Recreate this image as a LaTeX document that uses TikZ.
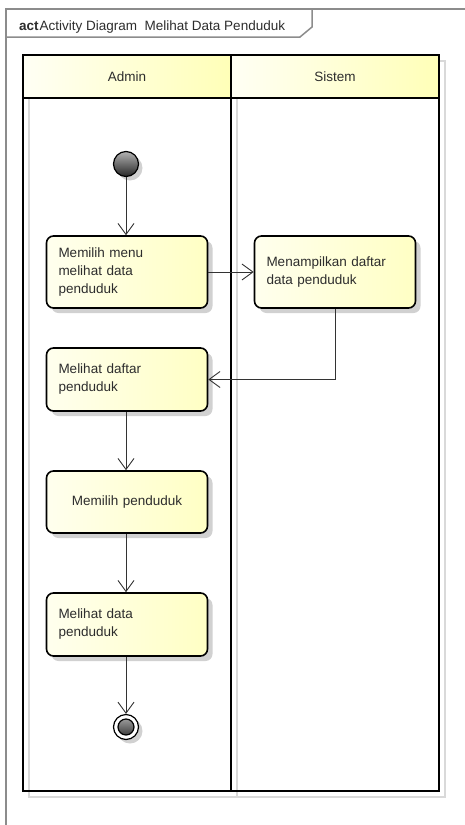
\documentclass[tikz,border=0pt]{standalone}
\usepackage{fontspec}
\setmainfont{Liberation Sans}
\usetikzlibrary{arrows.meta,shadows}

\definecolor{actleft}{RGB}{255,255,238}
\definecolor{actright}{RGB}{255,255,196}
\definecolor{textgray}{RGB}{45,45,45}

\tikzset{
  frame/.style={draw=black!45, line width=1.5pt},
  lane/.style={draw=black, line width=1.8pt},
  laneshadow/.style={draw=black!15, line width=1.5pt},
  action/.style={rectangle, rounded corners=7pt, draw=black, line width=1.6pt,
    left color=actleft, right color=actright, minimum width=161pt,
    text width=137pt, inner xsep=12pt, align=left,
    drop shadow={shadow xshift=5pt, shadow yshift=-5pt, fill=black!18, opacity=1}},
  initial/.style={circle, draw=black, line width=1.2pt, minimum size=25pt, inner sep=0pt,
    top color=gray!60, bottom color=black!85,
    drop shadow={shadow xshift=4pt, shadow yshift=-4pt, fill=black!18, opacity=1}},
  final/.style={circle, draw=black, line width=1.2pt, minimum size=25pt, inner sep=0pt, fill=white,
    drop shadow={shadow xshift=4pt, shadow yshift=-4pt, fill=black!18, opacity=1},
    path picture={\shadedraw[top color=gray!60, bottom color=black!85, draw=black]
      (path picture bounding box.center) circle (8pt);}}
}

\begin{document}
\begin{tikzpicture}[x=1pt, y=-1pt,
  every node/.style={font=\fontsize{13.5}{18}\selectfont, text=textgray}]

  \useasboundingbox (0,0) rectangle (465,825);

  % frame and title tab
  \draw[frame] (6,830) -- (6,9) -- (470,9);
  \draw[frame] (6,37) -- (300,37) -- (312,27) -- (312,9);
  \node[anchor=base west, inner sep=0pt] (judul) at (19,30.5)
    {\textbf{act}\kern1pt Activity Diagram\ \ Melihat Data Penduduk};

  % swimlanes
  \draw[laneshadow] (29,61) rectangle (237,797);
  \draw[laneshadow] (237,61) rectangle (445,797);
  \shade[left color=yellow!4, right color=yellow!28] (23,55) rectangle (231,98);
  \shade[left color=yellow!4, right color=yellow!28] (231,55) rectangle (439,98);
  \draw[lane] (23,55) rectangle (231,791);
  \draw[lane] (231,55) rectangle (439,791);
  \draw[lane] (23,98) -- (439,98);
  \node (admin)  at (127,77) {Admin};
  \node (sistem) at (335,77) {Sistem};

  % activities
  \node[initial] (start) at (126,164) {};
  \node[action, minimum height=72pt] (menu)   at (127,272)   {Memilih menu\\melihat data\\penduduk};
  \node[action, minimum height=72pt] (tampil) at (335,272)   {Menampilkan daftar\\data penduduk};
  \node[action, minimum height=63pt] (daftar) at (127,379.5) {Melihat daftar\\penduduk};
  \node[action, minimum height=62pt, align=center] (pilih) at (127,502) {Memilih penduduk};
  \node[action, minimum height=63pt] (data)   at (127,624.5) {Melihat data\\penduduk};
  \node[final] (end) at (126,727) {};

  \begin{scope}[every edge/.style={draw=black!80, line width=0.9pt,
      -{Straight Barb[length=11pt,width=16pt]}}]
    \path (start)  edge (start |- menu.north);
    \path (menu)   edge (tampil);
    \path (tampil) edge[to path={|- (\tikztotarget)}] (daftar);
    \path (daftar.south -| start) edge (start |- pilih.north);
    \path (pilih.south -| start)  edge (start |- data.north);
    \path (data.south -| start)   edge (end);
  \end{scope}

\end{tikzpicture}
\end{document}
